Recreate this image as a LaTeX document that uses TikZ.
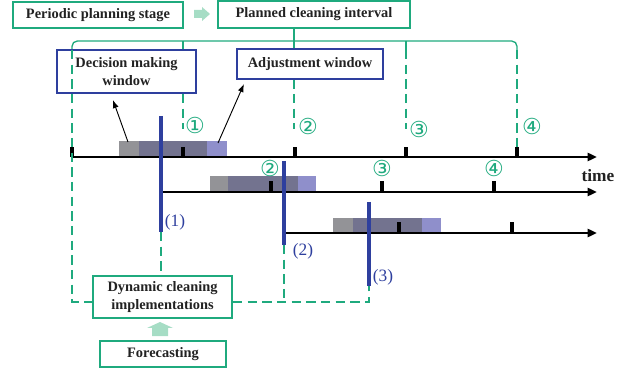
\documentclass[tikz,border=0pt]{standalone}
\usepackage{fontspec}
\setmainfont{Liberation Serif}
\newfontfamily\circfont{DejaVu Sans}
\usetikzlibrary{arrows.meta,calc}
\definecolor{grn}{HTML}{1FAA7E}
\definecolor{lgrn}{HTML}{A6DDC5}
\definecolor{blu}{HTML}{2E3F9E}
\definecolor{gwin}{HTML}{939397}
\definecolor{dwin}{HTML}{73738F}
\definecolor{pwin}{HTML}{8F8FCB}
\definecolor{txt}{HTML}{222222}
\begin{document}
\begin{tikzpicture}[x=0.75pt,y=-0.75pt,
  gbox/.style={draw=grn, line width=1.6pt, fill=white, text=txt, inner sep=0pt, align=center,
    font=\bfseries\fontsize{10.8}{13.5}\selectfont},
  bbox/.style={draw=blu, line width=1.6pt, fill=white, text=txt, inner sep=0pt, align=center,
    font=\bfseries\fontsize{10.8}{13.5}\selectfont},
  gsolid/.style={draw=grn, line width=1pt},
  gdash/.style={draw=grn, line width=1.3pt, dash pattern=on 7pt off 4pt},
  tline/.style={draw=black, line width=2pt, -{Triangle[length=7pt,width=6pt]}},
  tickmark/.style={draw=black, line width=2.6pt},
  bline/.style={draw=blu, line width=2.3pt},
  circnum/.style={text=grn, font=\circfont\fontsize{16.5}{16.5}\selectfont, inner sep=0pt},
  blab/.style={text=blu, font=\fontsize{13}{13}\selectfont, inner sep=0pt},
  ptr/.style={draw=black, line width=0.7pt, -{Latex[length=6pt,width=4.5pt]}}
]
\useasboundingbox (0,0) rectangle (634,373);

% ---------- top boxes ----------
\node[gbox, minimum width=127.5pt, minimum height=19.5pt] (periodic) at (98,15) {Periodic planning stage};
\node[gbox, minimum width=144pt, minimum height=20.25pt] (planned) at (314,14.5) {Planned cleaning interval};
\fill[lgrn] (194,10) -- (202,10) -- (202,7) -- (210,14) -- (202,21) -- (202,18) -- (194,18) -- cycle;

% ---------- bracket ----------
\coordinate (brL) at (72,41);
\coordinate (brR) at (517,41);
\coordinate (brM) at (294,41);
\draw[gsolid] (planned.south -| brM) -- (brM);
\draw[gsolid, rounded corners=4] (72,50) -- (brL) -- (brR) -- (517,50);
\draw[gsolid] (183,41) -- (183,50);
\draw[gsolid] (294,41) -- (294,50);
\draw[gsolid] (406,41) -- (406,50);

% dashed verticals
\coordinate (v1) at (183,129);
\coordinate (v2) at (294,129);
\coordinate (v3) at (406,129);
\coordinate (v4) at (517,148);
\draw[gdash] (183,50) -- (v1);
\draw[gdash] (294,50) -- (v2);
\draw[gdash] (406,50) -- (v3);
\draw[gdash] (517,50) -- (v4);

% ---------- window boxes ----------
\node[bbox, minimum width=104.25pt, minimum height=32.25pt] (decision) at (126.5,71.5) {Decision making\\window};
\node[bbox, minimum width=109.5pt, minimum height=22.5pt] (adjust) at (310,64) {Adjustment window};

% ---------- windows on timelines ----------
\fill[gwin] (119,141) rectangle (139,157);
\fill[dwin] (139,141) rectangle (207,157);
\fill[pwin] (207,141) rectangle (227,157);
\fill[gwin] (210,176) rectangle (228,192);
\fill[dwin] (228,176) rectangle (298,192);
\fill[pwin] (298,176) rectangle (316,192);
\fill[gwin] (333,218) rectangle (353,233);
\fill[dwin] (353,218) rectangle (422,233);
\fill[pwin] (422,218) rectangle (441,233);

% ---------- timelines ----------
\coordinate (t1s) at (72,157);  \coordinate (t1e) at (597,157);
\coordinate (t2s) at (160,192); \coordinate (t2e) at (597,192);
\coordinate (t3s) at (286,233); \coordinate (t3e) at (597,233);
\draw[tline] (t1s) -- (t1e);
\draw[tline] (t2s) -- (t2e);
\draw[tline] (t3s) -- (t3e);
\foreach \x in {72,183,295,406,517} \draw[tickmark] (\x,157) -- (\x,147);
\foreach \x in {271,382,494} \draw[tickmark] (\x,192) -- (\x,181);
\foreach \x in {399,512} \draw[tickmark] (\x,233) -- (\x,222);
\node[font=\bfseries\fontsize{13}{13}\selectfont, text=txt, inner sep=0pt] (time) at (598,176) {time};

% ---------- circled numbers ----------
\node[circnum] (c1) at (195,125) {①};
\node[circnum] (c2) at (308,126) {②};
\node[circnum] (c3) at (419,129) {③};
\node[circnum] (c4) at (532,126) {④};
\node[circnum] (d2) at (270,168) {②};
\node[circnum] (d3) at (382,168) {③};
\node[circnum] (d4) at (494,168) {④};

% ---------- pointers ----------
\coordinate (p1) at (128,142);
\coordinate (p2) at (218,143);
\draw[ptr] (p1) -- ($(decision.south)+(-13.5,6)$);
\draw[ptr] (p2) -- ($(adjust.south west)+(8,4)$);

% ---------- bottom boxes ----------
\node[gbox, minimum width=104.25pt, minimum height=31.5pt] (dynamic) at (162.5,297) {Dynamic cleaning\\implementations};
\node[gbox, minimum width=94.5pt, minimum height=19.5pt] (forecast) at (163,354) {Forecasting};
\fill[lgrn] (152,336) -- (152,328) -- (147,328) -- (160,322) -- (173,328) -- (168,328) -- (168,336) -- cycle;

% ---------- blue decision lines ----------
\coordinate (b1t) at (161,116); \coordinate (b1b) at (161,232);
\coordinate (b2t) at (284,161); \coordinate (b2b) at (284,245);
\coordinate (b3t) at (369,202); \coordinate (b3b) at (369,286);

% ---------- bottom dashed connectors ----------
\coordinate (dl) at (72,302);
\coordinate (dr) at (369,302);
\draw[gdash] (72,50) -- (dl) -- ($(dynamic.west)+(0,5)$);
\draw[gdash] (b1b) -- (dynamic.north -| b1b);
\draw[gdash] (b2b) -- (284,302);
\draw[gdash] ($(dynamic.east)+(0,5)$) -- (dr) -- (b3b);

\draw[bline] (b1t) -- (b1b);
\draw[bline] (b2t) -- (b2b);
\draw[bline] (b3t) -- (b3b);
\node[blab] (l1) at (175,222) {(1)};
\node[blab] (l2) at (303,251) {(2)};
\node[blab] (l3) at (383,277) {(3)};
\end{tikzpicture}
\end{document}
